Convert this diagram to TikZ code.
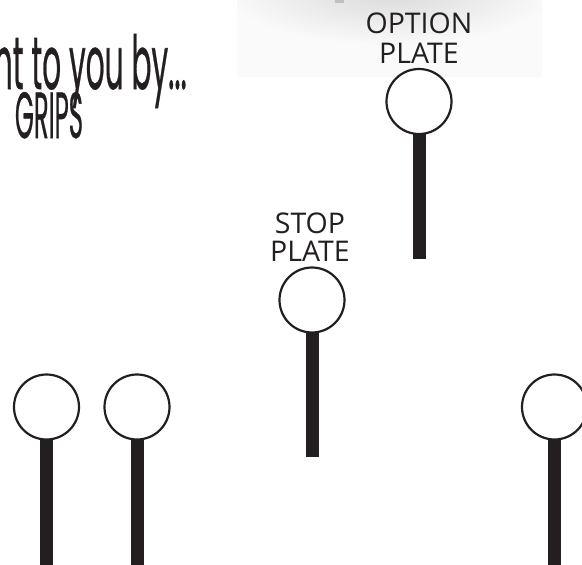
\documentclass[tikz,border=0pt]{standalone}
\usepackage{fontspec}
\usepackage{graphicx}
\setmainfont{Open Sans}
\newfontfamily\gripsfont[FakeBold=0.8]{Poppins}
\definecolor{ink}{HTML}{231F20}
\begin{document}
\begin{tikzpicture}[x=1pt,y=-1pt,
  plate/.style={circle,draw=ink,fill=white,line width=2.2pt,minimum size=65pt,inner sep=0pt},
  stem/.style={draw=ink,line width=13pt},
  platelabel/.style={font=\fontsize{28.5}{30}\selectfont,text=ink,inner sep=0pt,anchor=base,text height=21pt,text depth=0pt},
  brand/.style={font=\gripsfont,text=ink,inner sep=0pt,anchor=base}]
\useasboundingbox (0,0) rectangle (582,565);
\clip (0,0) rectangle (582,565);
% soft grey backdrop
\fill[gray!4] (237,0) rectangle (542,77);
\begin{scope}
  \clip (237,0) rectangle (542,77);
  \shade[inner color=gray!30, outer color=gray!4] (390,-10) ellipse [x radius=165, y radius=55];
\end{scope}
\fill[gray!50] (335,0) rectangle (344,2.5);
% brand text
\node[brand,anchor=base east,text height=42pt,text depth=12pt] (by) at (187,89) {\resizebox{280pt}{55pt}{Brought to you by...}};
\node[brand,text height=35pt,text depth=0pt] (grips) at (49,138) {\resizebox{68pt}{46pt}{GRIPS}};
% labels
\node[platelabel] (optA) at (419,33) {OPTION};
\node[platelabel] (optB) at (419,63) {PLATE};
\node[platelabel] (stopA) at (310,233) {STOP};
\node[platelabel] (stopB) at (310,261) {PLATE};
% end points of stems
\coordinate (optEnd) at (419.5,259);
\coordinate (stopEnd) at (312.5,457);
\coordinate (aEnd) at (46.5,570);
\coordinate (bEnd) at (137,570);
\coordinate (cEnd) at (554.5,570);
% stems
\draw[stem] (419.5,101.5) -- (optEnd);
\draw[stem] (312.5,300) -- (stopEnd);
\draw[stem] (46.5,407) -- (aEnd);
\draw[stem] (137,407) -- (bEnd);
\draw[stem] (554.5,407) -- (cEnd);
% plates
\node[plate] (opt) at (419,101.5) {};
\node[plate] (stop) at (312,300) {};
\node[plate] (a) at (46.5,407) {};
\node[plate] (b) at (137,407) {};
\node[plate] (c) at (554.5,407) {};
\end{tikzpicture}
\end{document}
